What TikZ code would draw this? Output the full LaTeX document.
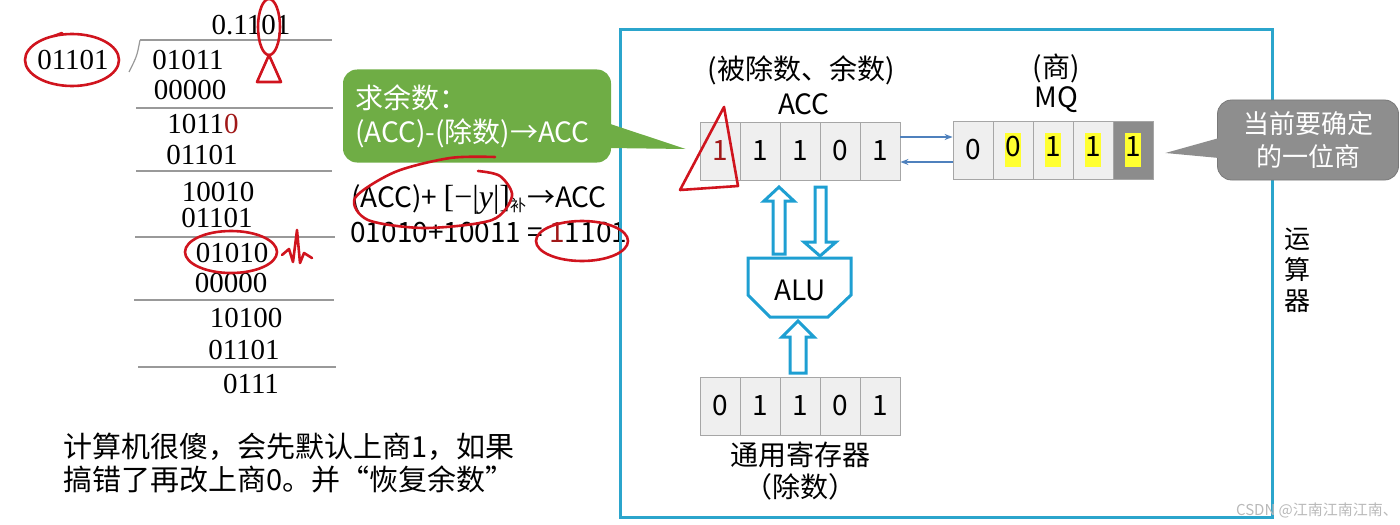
\documentclass[tikz,border=0pt]{standalone}
\usepackage{fontspec}
\setmainfont{Noto Sans CJK SC}
\newfontfamily\numfont{Liberation Serif}
\usetikzlibrary{arrows.meta,positioning,calc}
\definecolor{FrameBlue}{HTML}{2BA5CC}
\definecolor{PipeBlue}{HTML}{1E9FD2}
\definecolor{LinkBlue}{HTML}{4F81BD}
\definecolor{CellGray}{HTML}{EFEFEF}
\definecolor{CellLine}{HTML}{A6A6A6}
\definecolor{CellDark}{HTML}{8C8C8C}
\definecolor{CalloutGreen}{HTML}{6FAD45}
\definecolor{CalloutGray}{HTML}{8E8E8E}
\definecolor{PenRed}{HTML}{D0141E}
\definecolor{DigitRed}{HTML}{A01818}
\definecolor{MarkYellow}{HTML}{FFFF30}
\newcommand{\hl}[1]{{\setlength{\fboxsep}{0pt}\colorbox{MarkYellow}{\strut#1}}}

\begin{document}
\begin{tikzpicture}[x=.5pt,y=-.5pt,
    cell/.style={draw=CellLine,fill=CellGray,minimum width=20pt,minimum height=29pt,
      inner sep=0pt,font=\fontsize{14}{17}\selectfont},
    divnum/.style={font=\numfont\fontsize{14.5}{16}\selectfont,inner sep=1pt},
    rule/.style={draw=gray!80,line width=.6pt},
    pen/.style={PenRed,line width=1.3pt,line cap=round,line join=round},
    hollow/.style={draw=PipeBlue,line width=1.5pt,fill=white,line join=miter},
    link/.style={LinkBlue,line width=.7pt,-{Stealth[length=4pt,width=3pt]}},
    big/.style={font=\fontsize{14}{17}\selectfont}]
  \useasboundingbox (0,0) rectangle (1400,524);
  % long division
  \node[divnum] (quot) at (251,25) {0.1101};
  \node[divnum] (dvsr) at (73,60) {01101};
  \draw[rule] (140,40) -- (332,40);
  \draw[rule] (140,40) .. controls (137,56) .. (129,72);
  \foreach \x/\y/\t [count=\i] in {188/60/01011, 190/90/00000, 203/124/{1011\textcolor{DigitRed}{0}},
      202/155/01101, 218/192/10010, 217/218/01101, 232/253/01010, 231/283/00000,
      246/318/10100, 244/350/01101, 251/384/0111}
    \node[divnum] (row\i) at (\x,\y) {\t};
  \foreach \y/\a/\b in {108/136/333, 171/136/332, 237/135/335, 300/134/334, 367/138/336}
    \draw[rule] (\a,\y) -- (\b,\y);

  % green callout
  \node[fill=CalloutGreen,text=white,rounded corners=7pt,minimum height=46.5pt,
    text width=122pt,inner xsep=6pt,align=left,big] (gcall) at (477,116)
    {求余数：\\(ACC)-(除数)→ACC};

  % working
  \node[anchor=west,big,inner sep=0pt] (eqa) at (351,199)
    {(ACC)+ {\numfont\fontsize{16}{17}\selectfont[−|\textit{y}|]}\textsubscript{\fontsize{8}{8}\selectfont 补}→ACC};
  \node[anchor=west,big,inner sep=0pt] (eqb) at (350,233)
    {01010+10011 = \textcolor{DigitRed}{1}1101};

  % arithmetic unit
  \draw[FrameBlue,line width=1.5pt] (620,30) rectangle (1272,517);
  \foreach \b [count=\i] in {{\textcolor{DigitRed}{1}},1,1,0,1}
    \node[cell] (acc\i) at ({680+40*\i},151) {\b};
  \foreach \b/\f [count=\i] in {0/CellGray,\hl{0}/CellGray,\hl{1}/CellGray,\hl{1}/CellGray,\hl{1}/CellDark}
    \node[cell,fill=\f] (mq\i) at ({933+40*\i},150) {\b};
  \foreach \b [count=\i] in {0,1,1,0,1}
    \node[cell] (gpr\i) at ({680+40*\i},406) {\b};
  \coordinate (gtip) at ([xshift=-7pt,yshift=1pt]acc1.west);
  \fill[CalloutGreen] ([xshift=-2pt,yshift=-3.5pt]gcall.east) -- (gtip)
    -- ([xshift=-2pt,yshift=-16pt]gcall.east) -- cycle;

  \node[big] (accname) at (804,104) {ACC};
  \node[big] (acctag) at (801,70) {(被除数、余数)};
  \node[big] (mqname) at (1056,100) {MQ};
  \node[big] (mqtag) at (1056,68) {(商)};
  \node[big] (gprname) at (800,455) {通用寄存器};
  \node[big] (gprtag) at (800,487) {（除数）};
  \node[align=center,font=\fontsize{13}{15.5}\selectfont] (unitname) at (1297,270) {运\\算\\器};

  \draw[link] ([yshift=7pt]acc5.east) -- ([yshift=7pt]acc5.east -| mq1.west);
  \draw[link] ([yshift=-5.5pt]acc5.east -| mq1.west) -- ([yshift=-5.5pt]acc5.east);

  % ALU and data paths
  \draw[hollow] (748,258) -- (851,258) -- (851,295) -- (828,317) -- (770,317) -- (748,295) -- cycle;
  \node[big] (alu) at (800,290) {ALU};
  \draw[hollow] (773,254) -- (773,201) -- (764,201) -- (779,187) -- (794,201) -- (785,201) -- (785,254) -- cycle;
  \draw[hollow] (815,187) -- (815,242) -- (804,242) -- (820,256) -- (836,242) -- (826,242) -- (826,187) -- cycle;
  \draw[hollow] (790,373) -- (790,337) -- (782,337) -- (798,321) -- (814,337) -- (806,337) -- (806,373) -- cycle;

  % grey callout
  \node[fill=CalloutGray,draw=CalloutGray!85!black,text=white,rounded corners=7pt,
    minimum width=90.5pt,minimum height=40pt,align=center,
    font=\fontsize{13}{16.5}\selectfont] (qcall) at (1308,140) {当前要确定\\的一位商};
  \coordinate (qtip) at ([xshift=6pt,yshift=-1.5pt]mq5.east);
  \fill[CalloutGray] ([xshift=1pt,yshift=1pt]qcall.west) -- (qtip)
    -- ([xshift=1pt,yshift=-9pt]qcall.west) -- cycle;

  % note
  \node[anchor=west,align=left,font=\fontsize{14.5}{17}\selectfont] (note) at (56,463)
    {计算机很傻，会先默认上商1，如果\\搞错了再改上商0。并“恢复余数”};
  \node[text=gray!55,font=\fontsize{7.5}{9}\selectfont] (mark) at (1317,510) {CSDN @江南江南江南、};

  % pen marks
  \draw[pen] (72,60) ellipse [x radius=47,y radius=26];
  \draw[pen] (54,36) -- (62,33);
  \draw[pen] (269,27) ellipse [x radius=11,y radius=28];
  \draw[pen] (269,55) -- (257,82) -- (281,82) -- cycle;
  \draw[pen] (231,252) ellipse [x radius=46,y radius=21];
  \draw[pen] (282,255) -- (289,249) -- (293,262) -- (297,230) -- (300,263) -- (304,253) -- (312,258);
  \draw[pen] plot[smooth] coordinates {(495,157) (450,158) (395,172) (355,198) (368,220)
    (425,228) (492,220) (512,196) (500,176) (478,171)};
  \draw[pen] (582,241) ellipse [x radius=46,y radius=20];
  \draw[pen] (724,107) -- (680,190) -- (738,186) -- cycle;
\end{tikzpicture}
\end{document}
